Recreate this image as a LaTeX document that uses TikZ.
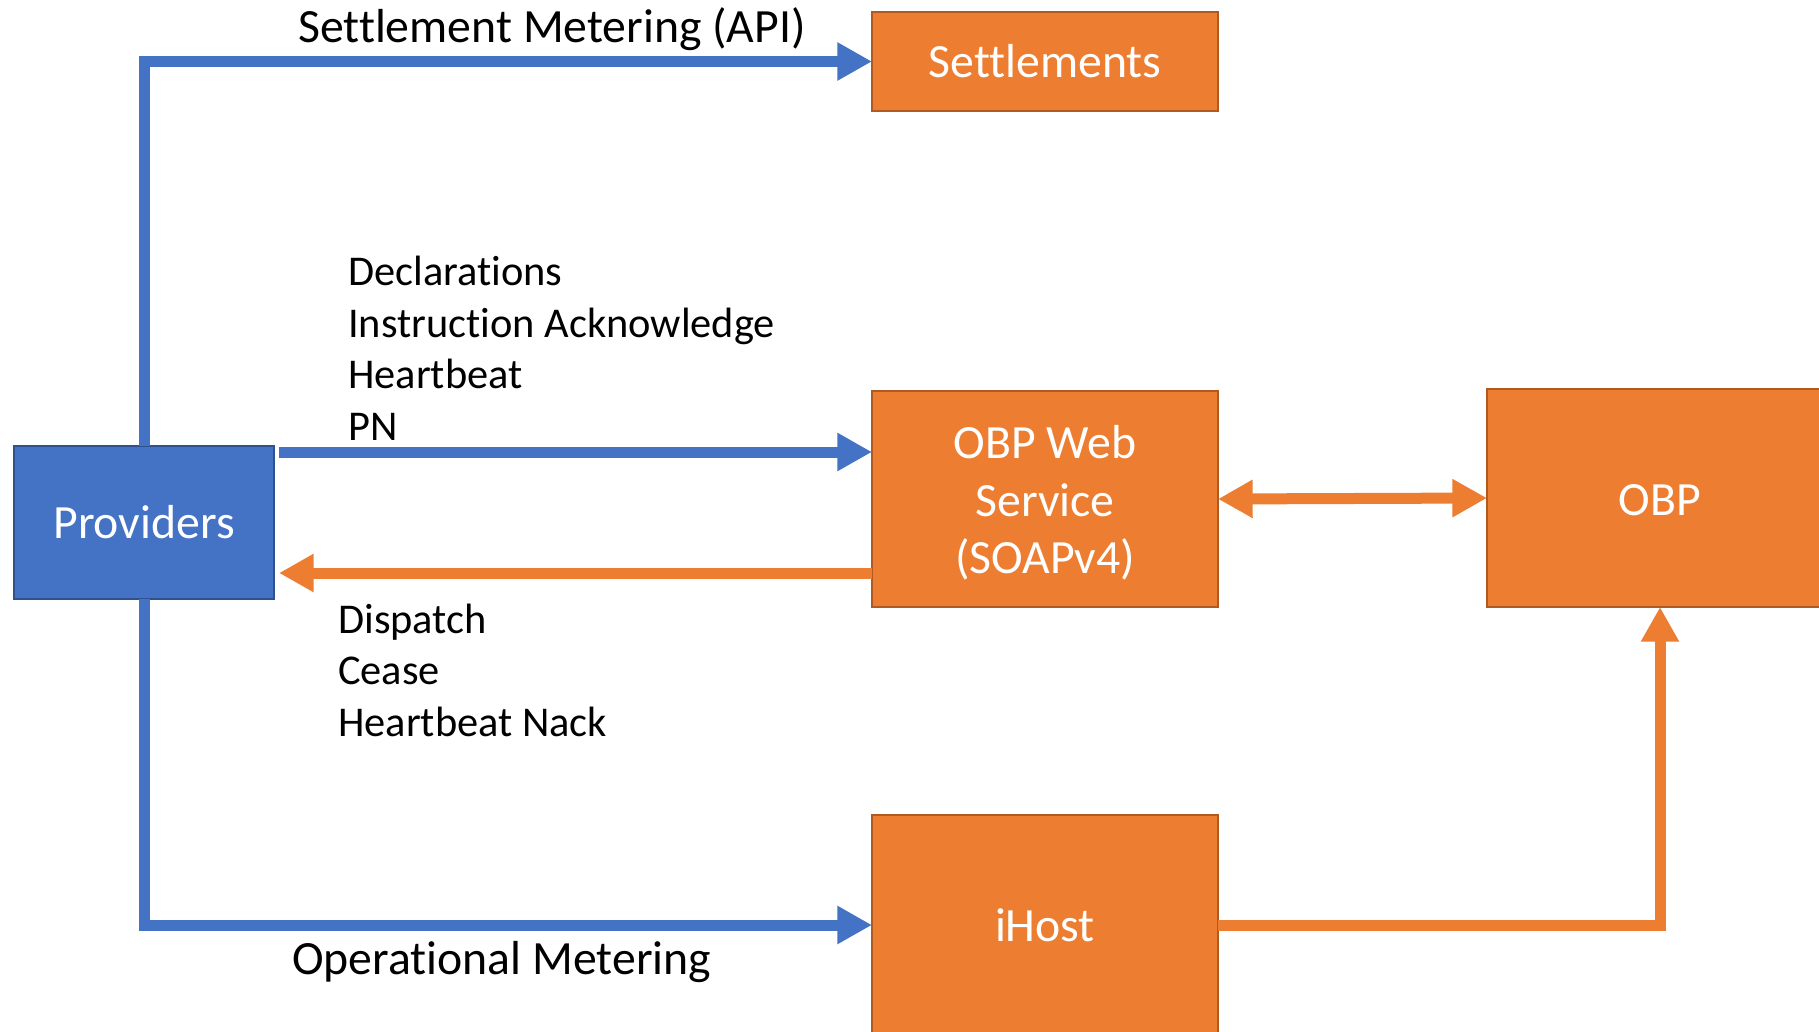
\documentclass[tikz,border=0pt]{standalone}
\usepackage{fontspec}
\setmainfont{Carlito}[Ligatures=NoCommon]
\usetikzlibrary{arrows.meta,calc}
\definecolor{msblue}{HTML}{4472C4}
\definecolor{msblueedge}{HTML}{2F528F}
\definecolor{msorange}{HTML}{ED7D31}
\definecolor{msorangeedge}{HTML}{AE5A21}
\begin{document}
\begin{tikzpicture}[x=0.75pt,y=-0.75pt,
  bigtext/.style={font=\fontsize{35.8}{43.2}\selectfont},
  smalltext/.style={font=\fontsize{31.8}{38.6}\selectfont, align=left, inner sep=0pt},
  orangebox/.style={draw=msorangeedge, fill=msorange, line width=1.5pt, text=white,
    bigtext, align=center, inner sep=0pt, outer sep=0pt, minimum width=259.5pt},
  bluebox/.style={draw=msblueedge, fill=msblue, line width=1.5pt, text=white,
    bigtext, align=center, inner sep=0pt, outer sep=0pt},
  boxtext/.style={text=white, bigtext, align=center, inner sep=0pt},
  bluearrow/.style={draw=msblue, line width=8.25pt,
    -{Triangle[length=26pt,width=27pt]}},
  orangearrow/.style={draw=msorange, line width=8.25pt,
    -{Triangle[length=26pt,width=27pt]}},
  orangeboth/.style={draw=msorange, line width=8.25pt,
    {Triangle[length=26pt,width=27pt]}-{Triangle[length=26pt,width=27pt]}}
]
\useasboundingbox (0,0) rectangle (1819,1031);

% boxes
\node[bluebox, minimum width=195pt, minimum height=114.75pt] (prov) at (144,522) {Providers};
\node[orangebox, minimum height=74.25pt] (settle) at (1045,61.5) {Settlements};
\node[orangebox, minimum height=162pt] (ws) at (1045,499) {};
\node[boxtext] (wstext) at ($(ws.center)+(0,4)$) {OBP Web\\Service\\(SOAPv4)};
\node[orangebox, minimum height=163.5pt] (obp) at (1660,498) {};
\node[boxtext] (obptext) at ($(obp.center)+(0,2)$) {OBP};
\node[orangebox, minimum height=165pt] (ihost) at (1045,925) {iHost};

% free ends of the two message arrows
\coordinate (reqstart) at (279,452);
\coordinate (rsptip) at (279,573);

% connectors
\draw[bluearrow] (prov.north) |- (settle.west);
\draw[bluearrow] (prov.south) |- (ihost.west);
\draw[bluearrow] (reqstart) -- (reqstart -| ws.west);
\draw[orangearrow] (rsptip -| ws.west) -- (rsptip);
\draw[orangeboth] (ws.east) -- (obp.west);
\draw[orangearrow] (ihost.east) -| (obp.south);

% labels (multi-line labels are anchored on their last line)
\node[bigtext, anchor=base west, inner sep=0pt] (lblsettle) at (298,43) {Settlement Metering (API)};
\node[bigtext, anchor=base west, inner sep=0pt] (lblop) at (292,974) {Operational Metering};
\node[smalltext, anchor=base west] (lblreq) at (348,440)
  {Declarations\\Instruction Acknowledge\\Heartbeat\\PN};
\node[smalltext, anchor=base west] (lblrsp) at (338,736)
  {Dispatch\\Cease\\Heartbeat Nack};
\end{tikzpicture}
\end{document}
